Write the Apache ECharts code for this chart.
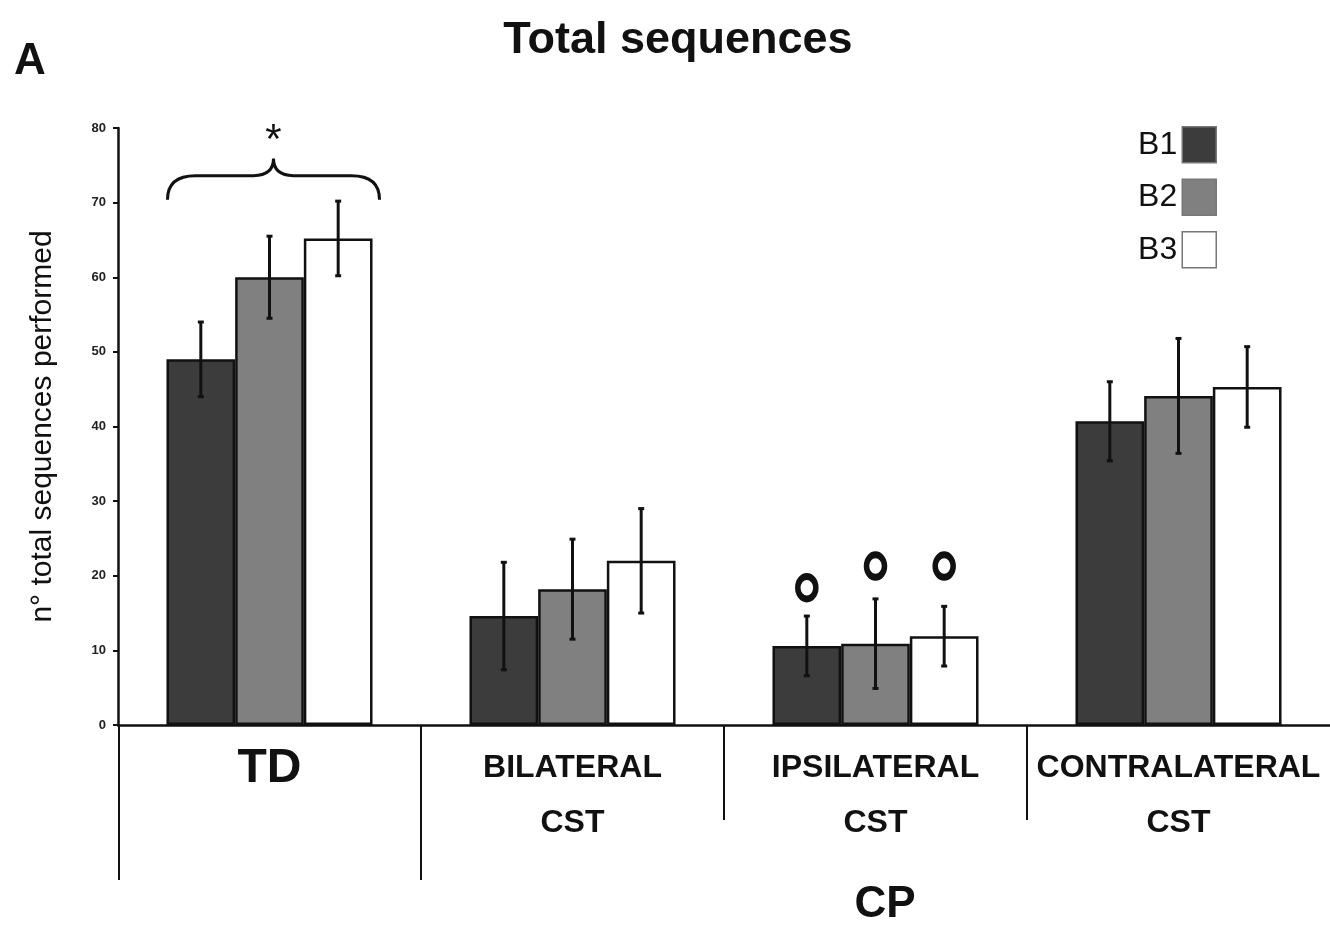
<!DOCTYPE html>
<html><head><meta charset="utf-8">
<script src="https://cdn.jsdelivr.net/npm/echarts@6/dist/echarts.min.js"></script>
<style>html,body{margin:0;padding:0;background:#fff}#c{width:1330px;height:929px}</style>
</head><body><div id="c"></div>
<script>
const categories = ['TD', 'BILATERAL\nCST', 'IPSILATERAL\nCST', 'CONTRALATERAL\nCST'];
const seriesNames = ['B1', 'B2', 'B3'];
const b1 = [49.0, 14.6, 10.6, 40.7];
const b1Err = [5.0, 7.2, 4.0, 5.3];
const b2 = [60.0, 18.2, 10.9, 44.1];
const b2Err = [5.5, 6.7, 6.0, 7.7];
const b3 = [65.2, 22.0, 11.9, 45.3];
const b3Err = [5.0, 7.0, 4.0, 5.4];
const ringCategory = 2;
const ringY = [18.4, 21.3, 21.3];
const braceLevels = [70.4, 75.9, 79.3]; // tips, middle, asterisk
const yMin = 0, yMax = 80, yStep = 10;

const FONT = "'Liberation Sans',Arial,sans-serif";
const colors = ['#3c3c3c', '#808080', '#ffffff'];
const GAP = 0.32;

const means = [b1, b2, b3];
const errs = [b1Err, b2Err, b3Err];

function errSeries(k) {
  return {
    type: 'custom', name: 'err' + k, z: 5, clip: false,
    data: means[k].map((m, i) => [i, m - errs[k][i], m + errs[k][i]]),
    encode: { x: 0, y: [1, 2] },
    renderItem: function (params, api) {
      const idx = api.value(0);
      const band = api.size([1, 0])[0];
      const bw = band * (1 - GAP) / 3;
      const off = (k - 1) * bw;
      const lo = api.coord([idx, api.value(1)]);
      const hi = api.coord([idx, api.value(2)]);
      const x = lo[0] + off;
      const st = { stroke: '#111', lineWidth: 3 };
      return { type: 'group', children: [
        { type: 'line', shape: { x1: x, y1: lo[1], x2: x, y2: hi[1] }, style: st },
        { type: 'line', shape: { x1: x - 3, y1: lo[1], x2: x + 3, y2: lo[1] }, style: st },
        { type: 'line', shape: { x1: x - 3, y1: hi[1], x2: x + 3, y2: hi[1] }, style: st }
      ]};
    }
  };
}

const option = {
  animation: false,
  textStyle: { fontFamily: FONT },
  graphic: [
    { type: 'text', x: 30, y: 62, style: { text: 'A', font: "bold 44px " + FONT, fill: '#111', textAlign: 'center', textVerticalAlign: 'middle' } },
    { type: 'text', x: 678, y: 41, style: { text: 'Total sequences', font: "bold 45px " + FONT, fill: '#111', textAlign: 'center', textVerticalAlign: 'middle' } },
    { type: 'text', x: 885, y: 905, style: { text: 'CP', font: "bold 44px " + FONT, fill: '#111', textAlign: 'center', textVerticalAlign: 'middle' } }
  ],
  legend: {
    data: seriesNames,
    orient: 'vertical', right: 108, top: 121, align: 'right',
    itemWidth: 34, itemHeight: 36, itemGap: 15, icon: 'rect',
    itemStyle: { borderColor: '#777', borderWidth: 1.5 },
    textStyle: { fontSize: 32, fontFamily: FONT, color: '#111' }
  },
  grid: { left: 118, right: 0, top: 128, bottom: 204, containLabel: false },
  xAxis: {
    type: 'category', data: categories,
    axisLine: { lineStyle: { color: '#111', width: 2.5 } },
    axisTick: { show: false },
    axisLabel: {
      interval: 0, margin: 16, color: '#111', verticalAlign: 'top',
      formatter: function (v) {
        if (v === 'TD') return '{big|TD}';
        return v.split('\n').map(s => '{sm|' + s + '}').join('\n');
      },
      rich: {
        big: { fontSize: 48, fontWeight: 'bold', fontFamily: FONT, lineHeight: 56, color: '#111' },
        sm: { fontSize: 32, fontWeight: 'bold', fontFamily: FONT, lineHeight: 55, color: '#111' }
      }
    }
  },
  yAxis: {
    type: 'value', min: yMin, max: yMax, interval: yStep,
    name: 'n° total sequences performed', nameLocation: 'middle', nameGap: 60,
    nameTextStyle: { fontSize: 30, fontFamily: FONT, color: '#111' },
    axisLine: { show: true, lineStyle: { color: '#111', width: 2.5 } },
    axisTick: { show: true, length: 5, lineStyle: { color: '#111', width: 2 } },
    axisLabel: { fontSize: 13, fontWeight: 'bold', color: '#222', margin: 12, fontFamily: FONT },
    splitLine: { show: false }
  },
  series: [
    ...seriesNames.map((n, k) => ({
      type: 'bar', name: n, data: means[k],
      barGap: '0%', barCategoryGap: (GAP * 100) + '%',
      itemStyle: { color: colors[k], borderColor: '#111', borderWidth: 2.5 }
    })),
    errSeries(0), errSeries(1), errSeries(2),
    {
      type: 'custom', name: 'rings', z: 6, clip: false,
      data: ringY.map((y, k) => [ringCategory, y, k]),
      encode: { x: 0, y: 1 },
      renderItem: function (params, api) {
        const band = api.size([1, 0])[0];
        const bw = band * (1 - GAP) / 3;
        const k = api.value(2);
        const p = api.coord([api.value(0), api.value(1)]);
        return { type: 'circle', x: p[0] + (k - 1) * bw, y: p[1], scaleX: 1, scaleY: 1.25,
          shape: { cx: 0, cy: 0, r: 9 },
          style: { fill: 'none', stroke: '#111', lineWidth: 5.5 } };
      }
    },
    {
      type: 'custom', name: 'brace', z: 6, clip: false,
      data: [[0, braceLevels[0], braceLevels[1], braceLevels[2]]],
      encode: { x: 0, y: [1, 2, 3] },
      renderItem: function (params, api) {
        const band = api.size([1, 0])[0];
        const half = band * (1 - GAP) / 2 + 3;
        const c = api.coord([api.value(0), api.value(1)]);
        const cx = c[0] + 4, yt = c[1];
        const ym = api.coord([0, api.value(2)])[1];
        const ya = api.coord([0, api.value(3)])[1];
        const yh = yt - 24;
        const xl = cx - half, xr = cx + half;
        const d = 'M' + xl + ' ' + yt + ' Q' + xl + ' ' + yh + ' ' + (xl + 28) + ' ' + yh +
          ' L' + (cx - 20) + ' ' + yh + ' Q' + cx + ' ' + yh + ' ' + cx + ' ' + ym +
          ' Q' + cx + ' ' + yh + ' ' + (cx + 20) + ' ' + yh +
          ' L' + (xr - 28) + ' ' + yh + ' Q' + xr + ' ' + yh + ' ' + xr + ' ' + yt;
        return { type: 'group', children: [
          { type: 'path', shape: { pathData: d }, style: { fill: 'none', stroke: '#111', lineWidth: 3 } },
          { type: 'text', x: cx, y: ya + 8, style: { text: '*', font: '42px ' + FONT, fill: '#111', textAlign: 'center', textVerticalAlign: 'middle' } }
        ]};
      }
    },
    {
      type: 'custom', name: 'dividers', z: 6, clip: false,
      data: categories.map((c, i) => [i, 0]),
      encode: { x: 0, y: 1 },
      renderItem: function (params, api) {
        const idx = api.value(0);
        const band = api.size([1, 0])[0];
        const p = api.coord([idx, 0]);
        const x = p[0] - band / 2 + (idx === 0 ? 1 : 0);
        const len = idx < 2 ? 155 : 95;
        return { type: 'line', shape: { x1: x, y1: p[1], x2: x, y2: p[1] + len }, style: { stroke: '#111', lineWidth: 2 } };
      }
    }
  ]
};
const chart = echarts.init(document.getElementById('c'));
chart.setOption(option);
</script></body></html>
